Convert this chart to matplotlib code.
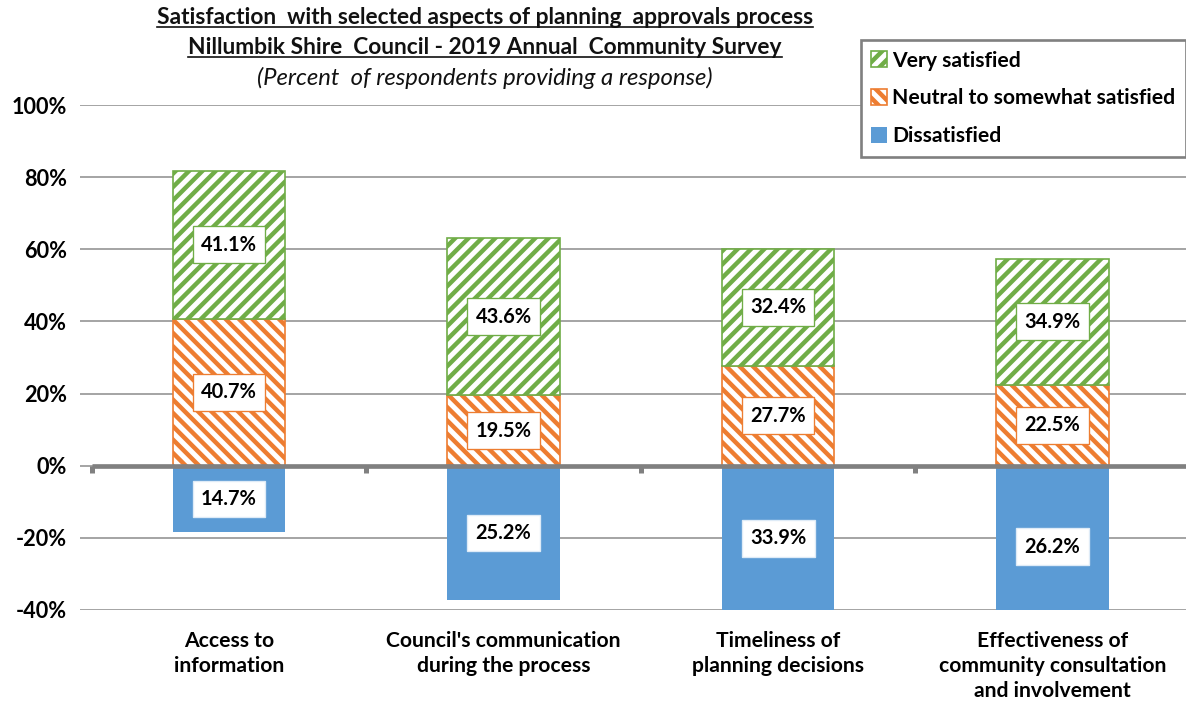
import matplotlib.pyplot as plt
from matplotlib.lines import Line2D
import numpy as np

plt.rcParams['font.family'] = ['Lato', 'DejaVu Sans']
plt.rcParams['hatch.linewidth'] = 4

categories = ["Access to\ninformation",
              "Council's communication\nduring the process",
              "Timeliness of\nplanning decisions",
              "Effectiveness of\ncommunity consultation\nand involvement"]
very_satisfied = [41.1, 43.6, 32.4, 34.9]
neutral = [40.7, 19.5, 27.7, 22.5]
dissatisfied = [14.7, 25.2, 33.9, 26.2]
# blue bars in the source are drawn longer than the labelled value
dissatisfied_drawn = [-18.5, -37.3, -40.3, -44.8]
yticks = [-40, -20, 0, 20, 40, 60, 80, 100]

green = "#70AD47"
orange = "#ED7D31"
blue = "#5B9BD5"
grey = "#A6A6A6"

dpi = 80
fig = plt.figure(figsize=(1186 / dpi, 708 / dpi), dpi=dpi)
ax = fig.add_axes([80 / 1186, 98 / 708, 1 - 80 / 1186, 505 / 708])

x = np.arange(len(categories))
w = 0.41

b_blue = ax.bar(x, dissatisfied_drawn, w, color=blue, label="Dissatisfied", zorder=3)
b_or = ax.bar(x, neutral, w, color="white", edgecolor=orange, hatch="\\\\",
              linewidth=1.5, label="Neutral to somewhat satisfied", zorder=3)
b_gr = ax.bar(x, very_satisfied, w, bottom=neutral, color="white", edgecolor=green,
              hatch="//", linewidth=1.5, label="Very satisfied", zorder=3)

lab = dict(ha="center", va="center", fontsize=18, fontweight="bold", zorder=5)
for i in range(len(x)):
    ax.text(x[i], neutral[i] + very_satisfied[i] / 2, f"{very_satisfied[i]:.1f}%",
            bbox=dict(boxstyle="square,pad=0.42", fc="white", ec=green, lw=1.2), **lab)
    ax.text(x[i], neutral[i] / 2, f"{neutral[i]:.1f}%",
            bbox=dict(boxstyle="square,pad=0.42", fc="white", ec=orange, lw=1.2), **lab)
    ax.text(x[i], dissatisfied_drawn[i] / 2, f"{dissatisfied[i]:.1f}%",
            bbox=dict(boxstyle="square,pad=0.42", fc="white", ec="#DEEBF7", lw=1.2), **lab)

ax.set_ylim(-40, 100)
ax.set_xlim(-0.543, 3.486)
ax.set_yticks(yticks)
ax.set_yticklabels([f"{t}%" for t in yticks], fontsize=19.5, fontweight="bold")
ax.set_xticks(x)
ax.set_xticklabels(categories, fontsize=19, fontweight="bold", linespacing=1.3)
ax.tick_params(axis="both", length=0)
ax.tick_params(axis="x", pad=19)
ax.tick_params(axis="y", pad=12)
ax.grid(axis="y", color=grey, linewidth=1.8, zorder=0)
for s in ax.spines.values():
    s.set_visible(False)

# zero axis line with its small tick marks between categories
ax.hlines(0, -0.5, 3.5, color="#808080", linewidth=4.2, zorder=4)
ax.vlines(np.arange(-0.5, 4, 1), -1.9, 0, color="#808080", linewidth=4.5, zorder=4)

leg = fig.legend(handles=[b_gr, b_or, b_blue], loc="upper right",
                 bbox_to_anchor=(1.0, 1 - 40 / 708), prop=dict(size=19, weight="bold"),
                 handlelength=0.75, handleheight=0.75, handletextpad=0.25,
                 labelspacing=0.85, borderpad=0.5, borderaxespad=0,
                 fancybox=False, framealpha=1)
leg.get_frame().set_edgecolor("#808080")
leg.get_frame().set_linewidth(2.4)

t1 = fig.text(485 / 1186, 1 - 17 / 708, "Satisfaction  with selected aspects of planning  approvals process",
              ha="center", va="center", fontsize=20.5, fontweight="bold", color="#111111")
t2 = fig.text(485 / 1186, 1 - 47 / 708, "Nillumbik Shire  Council - 2019 Annual  Community Survey",
              ha="center", va="center", fontsize=20.5, fontweight="bold", color="#111111")
fig.text(485 / 1186, 1 - 78 / 708, "(Percent  of respondents providing a response)",
         ha="center", va="center", fontsize=21.5, fontstyle="italic", color="#111111")

fig.canvas.draw()
r = fig.canvas.get_renderer()
for t in (t1, t2):
    bb = t.get_window_extent(r)
    yy = (bb.y0 + 1) / fig.bbox.height
    fig.add_artist(Line2D([bb.x0 / fig.bbox.width, bb.x1 / fig.bbox.width], [yy, yy],
                          transform=fig.transFigure, color="#111111", linewidth=1.5))

fig.savefig("out.png", dpi=dpi)
